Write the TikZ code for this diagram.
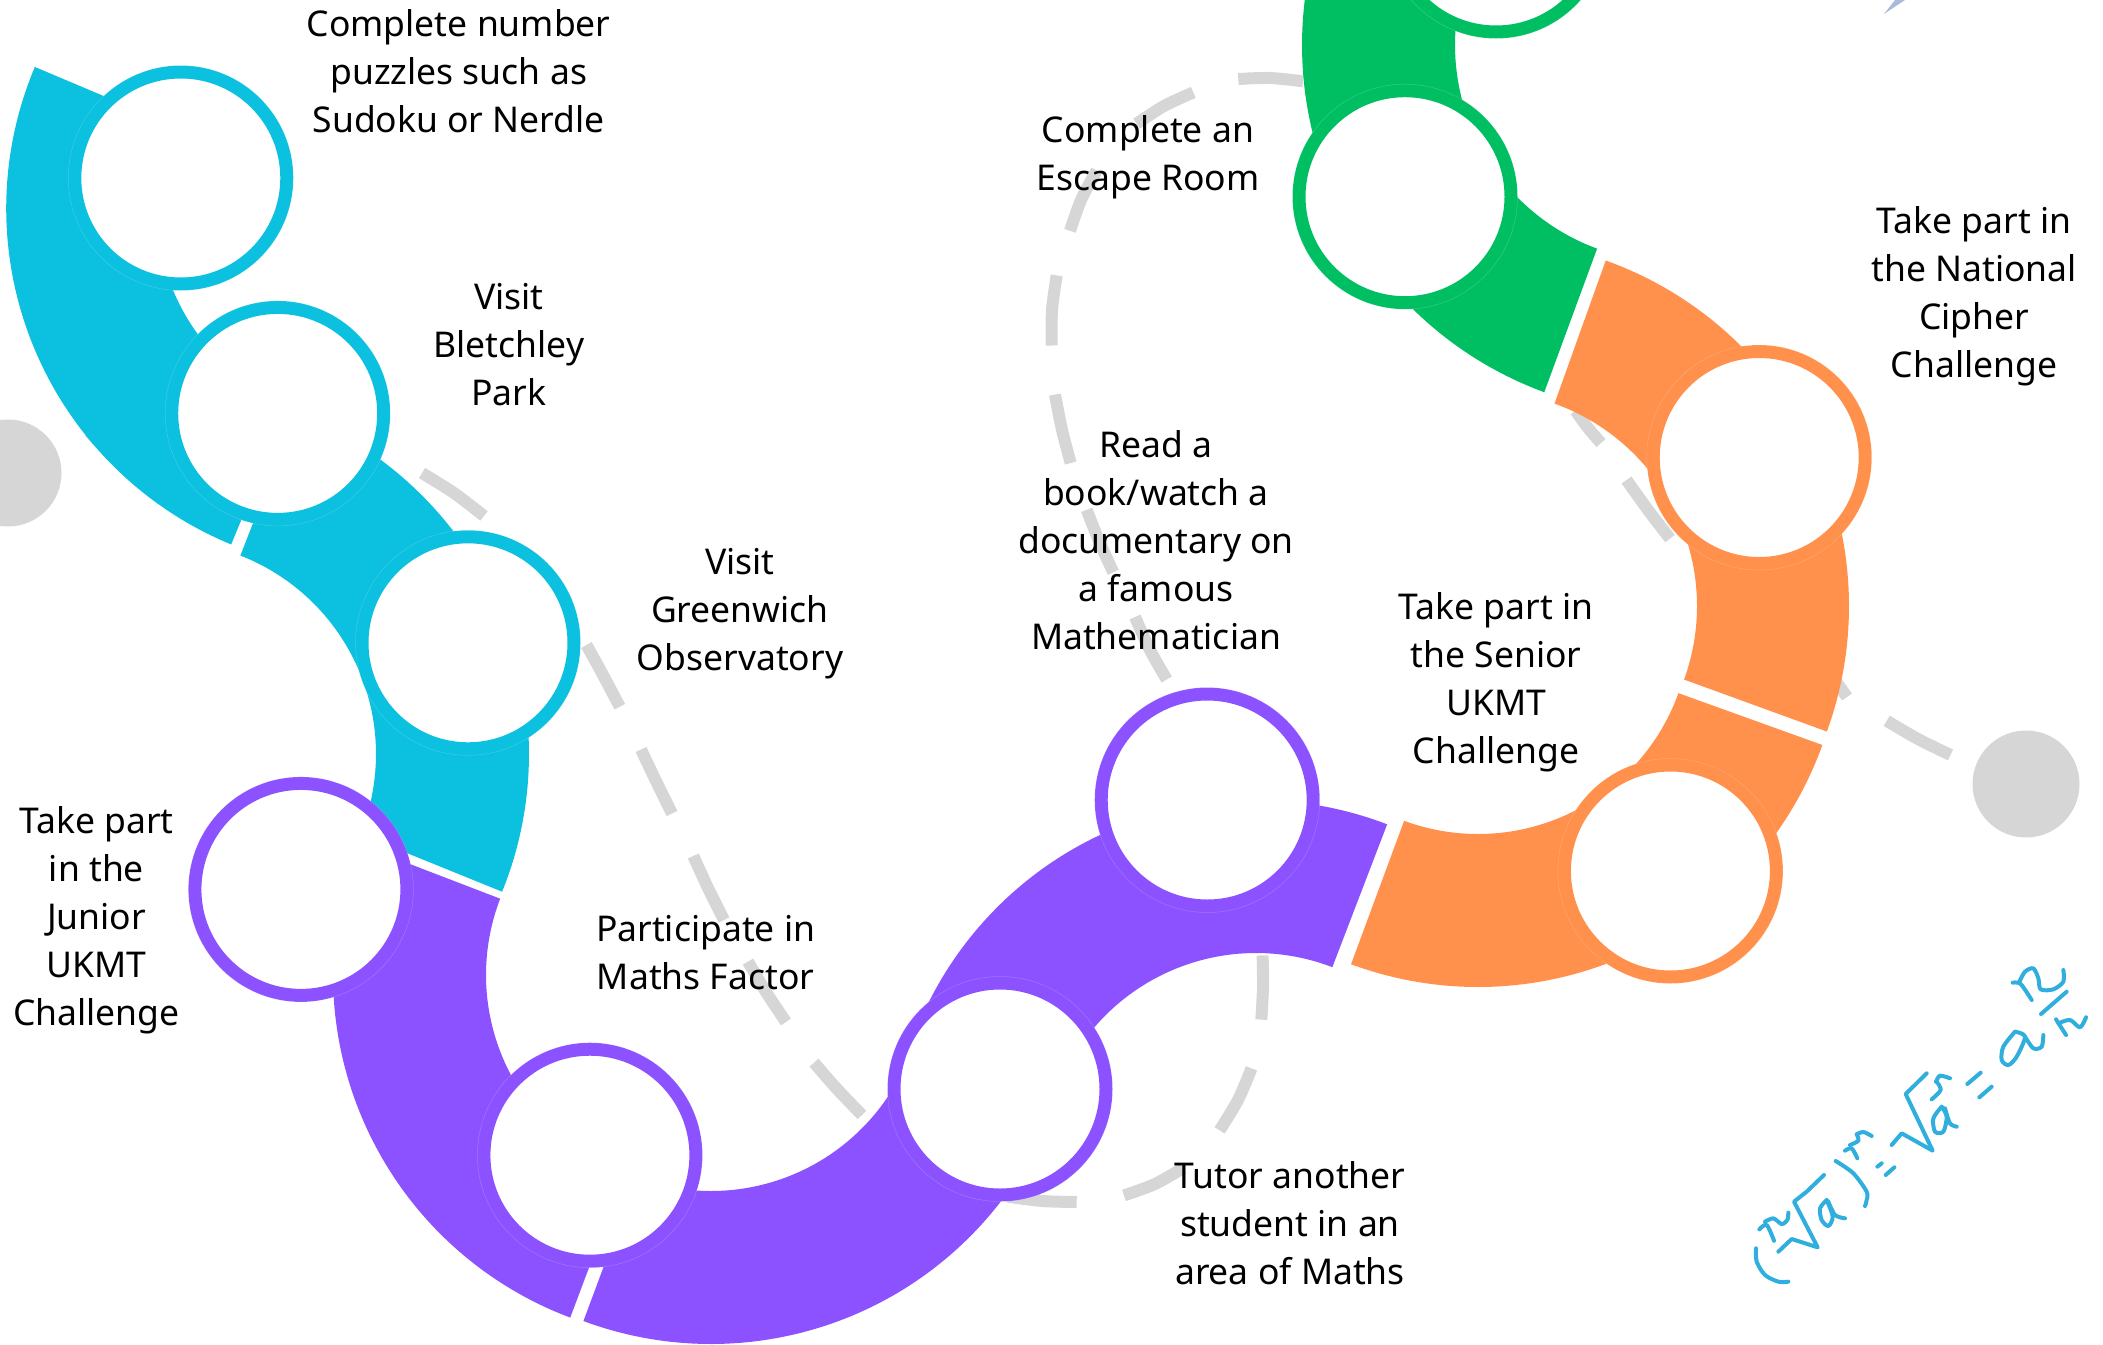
\documentclass[tikz,border=0pt]{standalone}
\usepackage{fontspec}
\setmainfont{Noto Sans}
\definecolor{cy}{HTML}{0CC0DF}
\definecolor{pu}{HTML}{8C52FF}
\definecolor{gr}{HTML}{00BF63}
\definecolor{or}{HTML}{FF914D}
\definecolor{gy}{HTML}{D6D6D6}
\definecolor{fm}{HTML}{30AEDD}
\definecolor{sl}{HTML}{A9BBDD}
\newcommand\bandshape[7]{\fill[#7] plot[domain=#5:#6,samples=90] ({#1+#3*cos(\x)},{#2+#3*sin(\x)}) -- plot[domain=#6:#5,samples=90] ({#1+#4*cos(\x)},{#2+#4*sin(\x)}) -- cycle;}
\newcommand\fs{\rule{0pt}{35pt}}
\tikzset{
 ringnode/.style={circle,fill=white,draw=#1,line width=13pt,minimum size=212pt,inner sep=0pt,outer sep=0pt},
 lab/.style={font=\fontsize{35.5}{48}\selectfont,align=center,inner sep=0pt,outer sep=0pt,anchor=north,yshift=35pt,text=black},
 graydash/.style={draw=gy,line width=12pt,line cap=butt},
 dot/.style={circle,fill=gy,minimum size=107pt,inner sep=0pt,outer sep=0pt},
 fstroke/.style={draw=fm,line width=4pt,line cap=round,line join=round}
}
\begin{document}
\begin{tikzpicture}[x=1pt,y=-1pt]
\useasboundingbox (0,0) rectangle (2103,1344);
\clip (0,0) rectangle (2103,1344);
% dashes
\draw[graydash] (89,440) -- (112,418);
\draw[graydash] plot[smooth] coordinates {(422,473) (454,493) (484,516)};
\draw[graydash] plot[smooth] coordinates {(586.5,645) (603,675) (619.8,706.8)};
\draw[graydash] plot[smooth] coordinates {(641,749.5) (656,781) (672,813.5)};
\draw[graydash] plot[smooth] coordinates {(693.3,856) (708,888) (724,920)};
\draw[graydash] plot[smooth] coordinates {(748,961.6) (766,992) (786,1022)};
\draw[graydash] plot[smooth] coordinates {(814,1062.6) (837,1089) (862,1115)};
\draw[graydash] plot[smooth] coordinates {(1008,1196.7) (1042,1201) (1076.7,1202)};
\draw[graydash] plot[smooth] coordinates {(1124,1195.4) (1155,1184) (1183,1168)};
\draw[graydash] plot[smooth] coordinates {(1219.6,1130.3) (1238,1100) (1251.5,1068.3)};
\draw[graydash] plot[smooth] coordinates {(1261.3,1019.6) (1263,987) (1262.6,955.4)};
\draw[graydash] plot[smooth] coordinates {(1166.7,679.5) (1150,650) (1135,617)};
\draw[graydash] plot[smooth] coordinates {(1113.3,572.3) (1099,541) (1086.7,509.8)};
\draw[graydash] plot[smooth] coordinates {(1070.7,463) (1062,430) (1055,394.6)};
\draw[graydash] plot[smooth] coordinates {(1051.7,345.5) (1052,310) (1056.7,275.4)};
\draw[graydash] plot[smooth] coordinates {(1070,230.8) (1081,200) (1096.7,170.5)};
\draw[graydash] plot[smooth] coordinates {(1136.7,123.7) (1164,106) (1193.3,92.4)};
\draw[graydash] plot[smooth] coordinates {(1238.3,79) (1270,78) (1303,81.3)};
\draw[graydash] plot[smooth] coordinates {(1575.5,410.7) (1588,428) (1601,443)};
\draw[graydash] plot[smooth] coordinates {(1626.5,480) (1648,510) (1670,538.6)};
\draw[graydash] (1835,680) -- (1847,697);
\draw[graydash] plot[smooth] coordinates {(1886.7,720.8) (1918,739) (1950.5,755)};
\node[dot] (dotL) at (8,473) {};
\node[dot] (dotR) at (2026,784) {};
\fill[sl] (1884,14) -- (1895,0) -- (1905,0) -- cycle;
% bands
\bandshape{369.7}{208.4}{363.5}{213}{202.9}{112.4}{cy}
\bandshape{163}{754}{366}{213}{-68.7}{22.1}{cy}
\bandshape{699}{975}{366}{213}{201}{110.6}{pu}
\bandshape{711}{978}{366}{213}{110.4}{18.9}{pu}
\bandshape{1256}{1166}{366}{213}{198.9}{291}{pu}
\bandshape{1478}{621}{366}{213}{110.3}{19.8}{or}
\bandshape{1482}{606}{367}{215}{20}{-70.3}{or}
\bandshape{1672}{45}{370}{217}{110.2}{205}{gr}
% circles
\node[ringnode=cy] (c1) at (180.8,178) {};
\node[ringnode=cy] (c2) at (277.7,413.4) {};
\node[ringnode=cy] (c3) at (468,642.8) {};
\node[ringnode=pu] (c4) at (300.9,889.4) {};
\node[ringnode=pu] (c5) at (589.9,1155.2) {};
\node[ringnode=pu] (c6) at (1000,1089) {};
\node[ringnode=pu] (c7) at (1207.2,800) {};
\node[ringnode=or] (c8) at (1670.4,871) {};
\node[ringnode=or] (c9) at (1759.2,457.5) {};
\node[ringnode=gr] (c10) at (1405,196.7) {};
\node[ringnode=gr] (c11) at (1496,-74) {};
\foreach \n in {c1,c2,c3,c4,c5,c6,c7,c8,c9,c10,c11}
  \draw[white,opacity=.2,line width=.5pt] (\n) circle (112.5);
% labels
\node[lab] (t1) at (458.7,36.5) {\fs Complete number\\puzzles such as\\Sudoku or Nerdle};
\node[lab] (t2) at (509,309.5) {\fs Visit\\Bletchley\\Park};
\node[lab] (t3) at (740,574.5) {\fs Visit\\Greenwich\\Observatory};
\node[lab] (t4) at (96.5,833.5) {\fs Take part\\in the\\Junior\\UKMT\\Challenge};
\node[lab] (t5) at (705.6,941.5) {\fs Participate in\\Maths Factor};
\node[lab] (t6) at (1290,1188.5) {\fs Tutor another\\student in an\\area of Maths};
\node[lab] (t7) at (1156,457.5) {\fs Read a\\book/watch a\\documentary on\\a famous\\Mathematician};
\node[lab] (t8) at (1148,142) {\fs Complete an\\Escape Room};
\node[lab] (t9) at (1496,619.5) {\fs Take part in\\the Senior\\UKMT\\Challenge};
\node[lab] (t10) at (1974,233.5) {\fs Take part in\\the National\\Cipher\\Challenge};
% handwritten formula
\begin{scope}[shift={(1650,900)},x=0.33333pt,y=-0.33333pt]
\draw[fstroke] plot[smooth] coordinates {(318,1045) (320,1085) (345,1125) (385,1145) (415,1145)};
\draw[fstroke] plot[smooth] coordinates {(328,988) (350,975) (372,1022)};
\draw[fstroke] plot[smooth] coordinates {(345,965) (370,955) (395,972) (412,960) (415,938)};
\draw[fstroke] (385,1055) -- (425,1017) -- (503,1042) -- (432,905) -- (470,875) -- (522,825);
\draw[fstroke] plot[smooth] coordinates {(530,900) (510,925) (515,960) (535,978) (548,950) (530,900)};
\draw[fstroke] plot[smooth] coordinates {(535,905) (555,945) (585,955)};
\draw[fstroke] plot[smooth] coordinates {(557,783) (610,820) (650,875) (650,900) (645,918)};
\draw[fstroke] plot[smooth] coordinates {(585,752) (605,745) (622,775)};
\draw[fstroke] plot[smooth] coordinates {(600,735) (625,722) (620,703)};
\draw[fstroke] plot[smooth] coordinates {(620,703) (640,696) (665,708)};
\draw[fstroke] (682,800) -- (695,790);
\draw[fstroke] (707,825) -- (733,802);
\draw[fstroke] (725,735) -- (755,700) -- (848,752) -- (767,582) -- (830,520);
\draw[fstroke] plot[smooth] coordinates {(875,620) (850,655) (855,695) (880,695) (890,650) (875,620)};
\draw[fstroke] plot[smooth] coordinates {(885,625) (900,670) (920,680)};
\draw[fstroke] plot[smooth] coordinates {(845,598) (872,570) (860,545)};
\draw[fstroke] plot[smooth] coordinates {(858,545) (870,527) (900,535)};
\draw[fstroke] (952,552) -- (992,518);
\draw[fstroke] (988,592) -- (1025,560);
\draw[fstroke] plot[smooth] coordinates {(1095,395) (1060,440) (1055,480) (1075,495) (1100,470) (1125,410) (1095,395)};
\draw[fstroke] plot[smooth] coordinates {(1125,410) (1150,445) (1175,440) (1180,405)};
\draw[fstroke] plot[smooth] coordinates {(1088,248) (1112,252) (1145,300)};
\draw[fstroke] plot[smooth] coordinates {(1108,245) (1125,215) (1150,205) (1165,235) (1172,268) (1210,268) (1240,245) (1240,210)};
\draw[fstroke] (1173,342) -- (1250,275);
\draw[fstroke] (1218,358) -- (1248,405);
\draw[fstroke] plot[smooth] coordinates {(1225,370) (1260,360) (1290,382) (1308,352)};
\end{scope}
\end{tikzpicture}
\end{document}
